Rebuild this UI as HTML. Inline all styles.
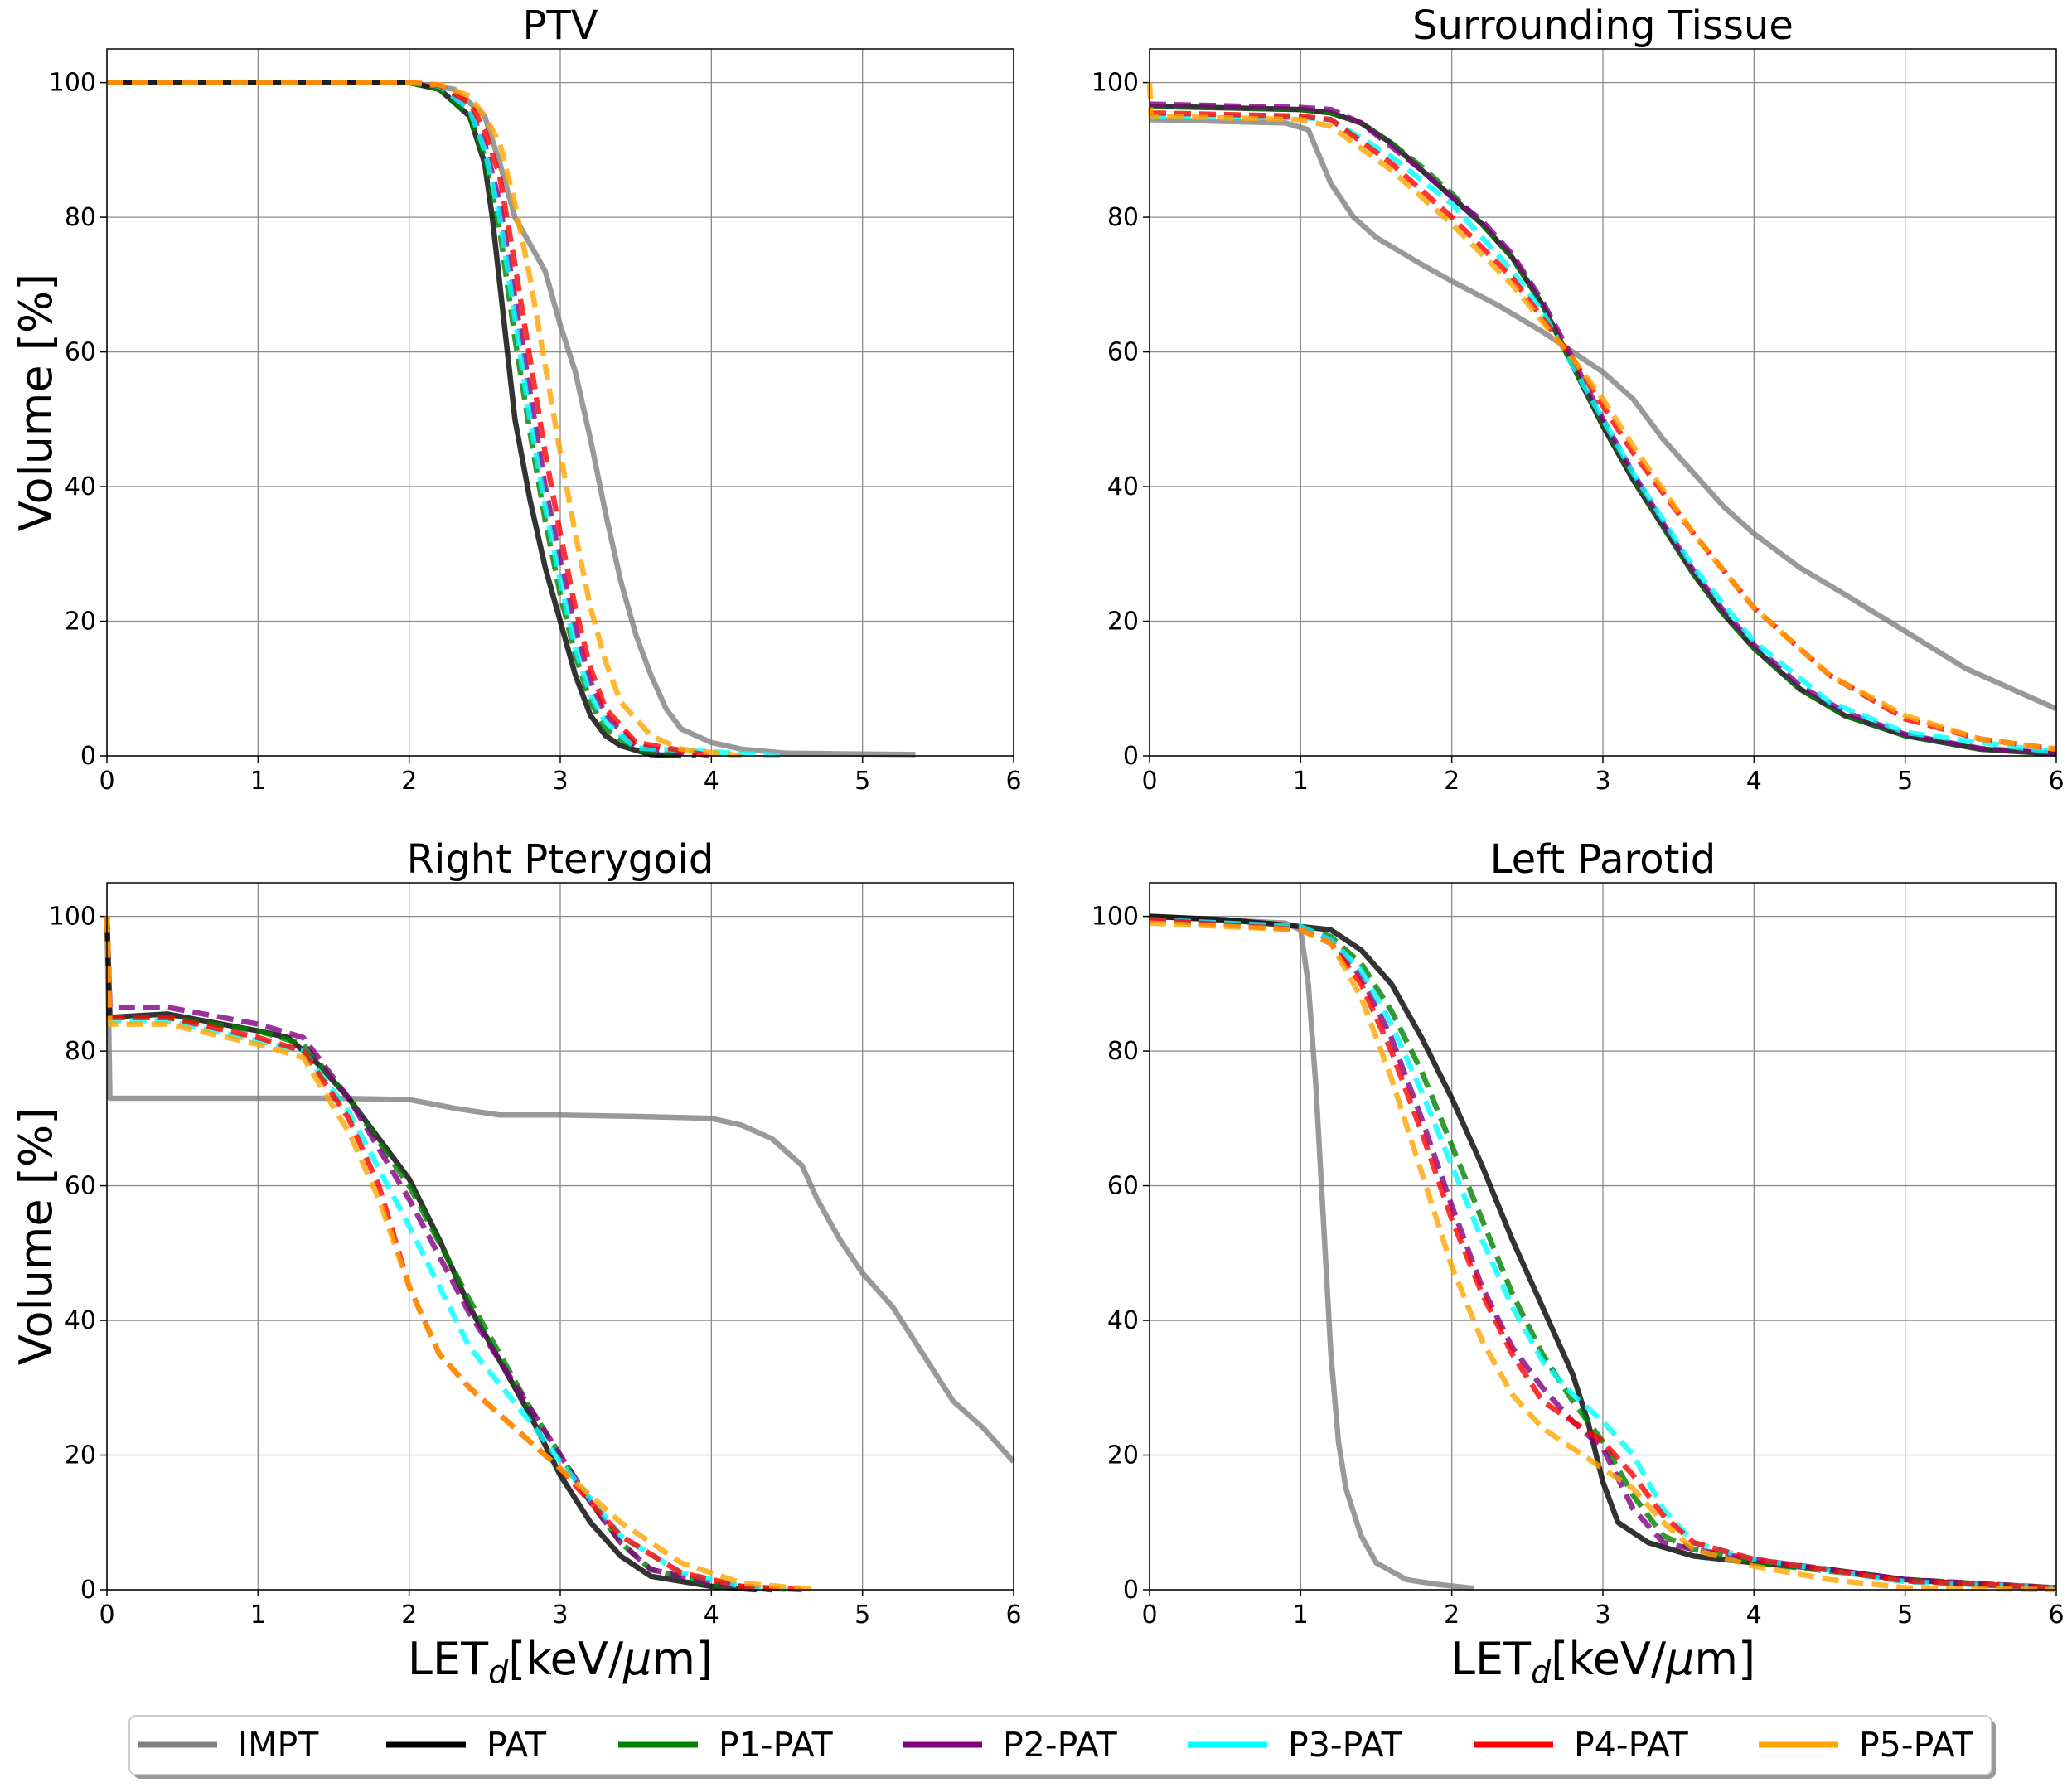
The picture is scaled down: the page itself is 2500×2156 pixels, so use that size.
<!DOCTYPE html>
<html><head><meta charset="utf-8"><style>
html,body{margin:0;padding:0;background:#fff;}
svg{display:block;font-family:"DejaVu Sans","Liberation Sans",sans-serif;}
</style></head><body>
<svg id="fig" width="2500" height="2156" viewBox="0 0 2500 2156" xmlns="http://www.w3.org/2000/svg"></svg>
<script>
const seriesNames = ["IMPT","PAT","P1-PAT","P2-PAT","P3-PAT","P4-PAT","P5-PAT"];
const seriesColors = ["rgba(128,128,128,0.8)","rgba(0,0,0,0.8)","rgba(0,128,0,0.8)","rgba(128,0,128,0.8)","rgba(0,255,255,0.8)","rgba(255,0,0,0.8)","rgba(255,165,0,0.8)"];
const legendColors = ["#808080","#000","#008000","#800080","#00ffff","#ff0000","#ffa500"];
const panelTitles = ["PTV","Surrounding Tissue","Right Pterygoid","Left Parotid"];
const xTicks = [0,1,2,3,4,5,6];
const yTicks = [0,20,40,60,80,100];

const ptvIMPT=[[0,100],[2,100],[2.3,99],[2.5,95],[2.6,88],[2.7,80],[2.9,72],[3.0,64],[3.1,57],[3.2,47],[3.3,36],[3.4,26],[3.5,18],[3.6,12],[3.7,7],[3.8,4],[4.0,2],[4.2,1],[4.5,0.4],[5.35,0.2]];
const ptvPAT=[[0,100],[2,100],[2.2,99],[2.4,95],[2.5,88],[2.55,80],[2.6,70],[2.65,60],[2.7,50],[2.8,38],[2.9,28],[3.0,20],[3.1,12],[3.2,6],[3.3,3],[3.4,1.5],[3.6,0.2],[3.8,0]];
const ptvP1=[[0,100],[2,100],[2.2,99],[2.4,95],[2.5,89],[2.6,78],[2.7,62],[2.8,48],[2.9,35],[3.0,24],[3.1,15],[3.2,8],[3.3,4],[3.5,1],[3.8,0]];
const ptvP2=[[0,100],[2,100],[2.2,99.5],[2.4,96],[2.5,91],[2.6,82],[2.7,68],[2.8,54],[2.9,40],[3.0,29],[3.1,19],[3.2,11],[3.3,6],[3.5,1.5],[3.9,0]];
const ptvP3=[[0,100],[2,100],[2.2,99.5],[2.4,96],[2.5,90],[2.6,80],[2.7,65],[2.8,50],[2.9,37],[3.0,26],[3.1,16],[3.2,9],[3.3,5],[3.5,1.2],[4.5,0]];
const ptvP4=[[0,100],[2,100],[2.2,99.6],[2.4,97],[2.5,93],[2.6,86],[2.7,73],[2.8,59],[2.9,45],[3.0,33],[3.1,22],[3.2,13],[3.3,7],[3.5,2],[4.0,0]];
const ptvP5=[[0,100],[2,100],[2.2,99.7],[2.4,98],[2.5,95],[2.6,91],[2.7,82],[2.8,71],[2.9,58],[3.0,45],[3.1,33],[3.2,22],[3.3,14],[3.4,8],[3.6,3],[3.8,1],[4.2,0]];

const stIMPT=[[0,94.5],[0.9,94],[1.05,93],[1.2,85],[1.35,80],[1.5,77],[1.8,73],[2.0,70.5],[2.3,67],[2.6,63],[2.8,60],[3.0,57],[3.2,53],[3.4,47],[3.6,42],[3.8,37],[4.0,33],[4.3,28],[4.6,24],[5.0,18.5],[5.4,13],[5.7,10],[6,7]];
const stPAT=[[0,96.5],[1,96],[1.2,95.5],[1.4,94],[1.6,91],[1.8,87],[2.0,83],[2.2,79],[2.4,74],[2.6,67],[2.8,58],[3.0,49],[3.2,41],[3.4,34],[3.6,27],[3.8,21],[4.0,16],[4.3,10],[4.6,6],[5,3],[5.5,1],[6,0.3]];
const stP1=[[0,96.5],[1,96],[1.2,95.5],[1.4,94],[1.6,91],[1.8,87.5],[2.0,83.5],[2.2,79],[2.4,74],[2.6,67],[2.8,58],[3.0,49.5],[3.2,41.5],[3.4,34],[3.6,27],[3.8,21],[4.0,16],[4.3,10],[4.6,6],[5,3],[5.5,1],[6,0.3]];
const stP2=[[0,96.8],[1,96.3],[1.2,96],[1.4,94],[1.6,90.5],[1.8,87],[2.0,83],[2.2,79.5],[2.4,74.5],[2.6,67.5],[2.8,59],[3.0,50],[3.2,42],[3.4,34.5],[3.6,27.5],[3.8,21.5],[4.0,16.5],[4.3,10.5],[4.6,6.5],[5,3.2],[5.5,1.1],[6,0.4]];
const stP3=[[0,95],[1,94.8],[1.2,94.5],[1.6,89],[2,82],[2.4,72],[2.6,66],[2.8,58],[3.0,50],[3.2,42],[3.6,28],[4,17],[4.5,8],[5,3.5],[6,0.5]];
const stP4=[[0,95.5],[1,95],[1.2,94.5],[1.6,88],[2,80],[2.4,71],[2.8,59],[3,52],[3.2,45],[3.6,33],[4,22],[4.5,12],[5,5.5],[5.5,2.5],[6,1]];
const stP5=[[0,100],[0.01,95],[1,94.5],[1.2,93.5],[1.6,87],[2,79],[2.4,70],[2.8,59],[3,53],[3.2,46],[3.6,33],[4,22],[4.5,12],[5,6],[5.5,2.5],[6,1]];

const rpIMPT=[[0,100],[0.02,73],[1.5,73],[2,72.8],[2.3,71.5],[2.6,70.5],[3,70.5],[3.5,70.3],[4,70],[4.2,69],[4.4,67],[4.6,63],[4.7,58],[4.85,52],[5,47],[5.2,42],[5.4,35],[5.6,28],[5.8,24],[6,19]];
const rpPAT=[[0,100],[0.02,85],[0.4,85.5],[1,83],[1.2,82],[1.4,78],[1.6,73],[1.8,67],[2,61],[2.2,52],[2.4,42],[2.6,34],[2.8,26],[3,17],[3.2,10],[3.4,5],[3.6,2],[4,0.5],[4.3,0]];
const rpP1=[[0,100],[0.02,85],[0.4,85],[1,83],[1.3,81],[1.6,73],[2,60],[2.4,43],[2.8,27],[3,20],[3.2,13],[3.4,7],[3.6,3],[4,0.8],[4.4,0]];
const rpP2=[[0,100],[0.02,86.5],[0.4,86.5],[1,84],[1.3,82],[1.6,73],[2,58],[2.4,41],[2.8,27],[3,20],[3.2,13],[3.4,7],[3.6,3],[4,1],[4.4,0]];
const rpP3=[[0,100],[0.02,84.5],[0.4,84.5],[1,81.5],[1.3,80],[1.6,71],[2,54],[2.4,36],[2.8,25],[3,19],[3.4,8],[3.8,2.5],[4.2,0.5],[4.5,0]];
const rpP4=[[0,100],[0.02,85],[0.4,85],[1,82],[1.3,80],[1.6,70],[1.8,60],[2,45],[2.2,35],[2.4,30],[2.8,22],[3,18],[3.4,8],[3.8,2.5],[4.2,0.5],[4.6,0]];
const rpP5=[[0,100],[0.02,84],[0.4,84],[1,81],[1.3,79],[1.6,68],[1.8,58],[2,45],[2.2,35],[2.4,30],[2.8,22],[3,18],[3.4,10],[3.8,4],[4.2,1],[4.7,0]];

const lpIMPT=[[0,100],[0.9,99],[1.0,98],[1.05,90],[1.1,75],[1.15,55],[1.2,35],[1.25,22],[1.3,15],[1.4,8],[1.5,4],[1.7,1.5],[1.9,0.8],[2.15,0.2]];
const lpPAT=[[0,100],[0.5,99.5],[1,98.5],[1.2,98],[1.4,95],[1.6,90],[1.8,82],[2.0,73],[2.2,63],[2.4,52],[2.6,42],[2.8,32],[2.9,25],[3.0,16],[3.1,10],[3.3,7],[3.6,5],[4,4],[4.5,3],[5,1.5],[5.5,0.7],[6,0.3]];
const lpP1=[[0,99.5],[1,98.5],[1.2,97],[1.4,93],[1.6,86],[1.8,77],[2,66],[2.2,55],[2.4,44],[2.6,35],[2.8,28],[3,22],[3.2,14],[3.4,8],[3.6,6],[4,4],[5,1.5],[6,0.3]];
const lpP2=[[0,99.5],[1,98.5],[1.2,96.5],[1.4,91],[1.6,82],[1.8,70],[2,57],[2.2,45],[2.4,36],[2.6,30],[2.8,25],[3,21],[3.2,12],[3.4,7],[3.6,6],[4,4.5],[5,1.5],[6,0.3]];
const lpP3=[[0,99.5],[1,98.5],[1.2,96.5],[1.4,92],[1.6,84],[1.8,74],[2,63],[2.2,52],[2.4,42],[2.6,34],[2.8,29],[3,25],[3.2,20],[3.4,12],[3.6,7],[4,4.5],[5,1.2],[6,0.3]];
const lpP4=[[0,99.5],[1,98],[1.2,96],[1.4,90],[1.6,80],[1.8,68],[2,55],[2.2,44],[2.4,35],[2.6,28],[2.8,25],[3,22],[3.2,17],[3.4,11],[3.6,7],[4,4.5],[5,1.3],[6,0.3]];
const lpP5=[[0,99],[1,98],[1.2,96],[1.4,88],[1.6,76],[1.8,62],[2,48],[2.2,37],[2.4,29],[2.6,24],[2.8,21],[3,18],[3.2,15],[3.4,10],[3.6,6],[4,3.5],[4.5,1.5],[5,0.3],[6,0]];

const panelSeries = [
  [ptvIMPT,ptvPAT,ptvP1,ptvP2,ptvP3,ptvP4,ptvP5],
  [stIMPT,stPAT,stP1,stP2,stP3,stP4,stP5],
  [rpIMPT,rpPAT,rpP1,rpP2,rpP3,rpP4,rpP5],
  [lpIMPT,lpPAT,lpP1,lpP2,lpP3,lpP4,lpP5]
];

const NS="http://www.w3.org/2000/svg";
const svg=document.getElementById('fig');
function mk(tag,attrs,parent){const e=document.createElementNS(NS,tag);for(const k in attrs)e.setAttribute(k,attrs[k]);(parent||svg).appendChild(e);return e;}

const boxes=[{l:129,r:1223,t:59,b:912},{l:1387,r:2481,t:59,b:912},{l:129,r:1223,t:1065,b:1918},{l:1387,r:2481,t:1065,b:1918}];

boxes.forEach((bx,pi)=>{
  const g=mk('g',{});
  
  
  const xs=v=>bx.l+(v/6)*(bx.r-bx.l);
  const ys=v=>bx.b-(v/105)*(bx.b-bx.t);
  xTicks.forEach(v=>{
    const gl=mk('line',{x1:xs(v),x2:xs(v),y1:bx.t,y2:bx.b,stroke:'#8a8a8a','stroke-width':1.3},g);
    
    
    mk('line',{x1:xs(v),x2:xs(v),y1:bx.b,y2:bx.b+8,stroke:'#000','stroke-width':1.5},g);
    const t=mk('text',{x:xs(v),y:bx.b+40,'text-anchor':'middle','font-size':30},g);
    t.textContent=v;
    
    
  });
  yTicks.forEach(v=>{
    const gl=mk('line',{x1:bx.l,x2:bx.r,y1:ys(v),y2:ys(v),stroke:'#8a8a8a','stroke-width':1.3},g);
    
    
    mk('line',{x1:bx.l-8,x2:bx.l,y1:ys(v),y2:ys(v),stroke:'#000','stroke-width':1.5},g);
    const t=mk('text',{x:bx.l-13,y:ys(v)+10,'text-anchor':'end','font-size':30},g);
    t.textContent=v;
    
    
  });
  panelSeries[pi].forEach((pts,si)=>{
    const p=mk('polyline',{points:pts.map(d=>xs(d[0]).toFixed(1)+','+ys(d[1]).toFixed(1)).join(' '),fill:'none',stroke:seriesColors[si],'stroke-width':6.5,'stroke-linejoin':'round','stroke-dasharray':si>=2?'20 10':'none'},g);
    
    
  });
  const fr=mk('rect',{x:bx.l,y:bx.t,width:bx.r-bx.l,height:bx.b-bx.t,fill:'none',stroke:'#000','stroke-width':1.5},g);
  
  
  const tt=mk('text',{x:(bx.l+bx.r)/2,y:bx.t-12,'text-anchor':'middle','font-size':48},g);
  tt.textContent=panelTitles[pi];
  
  
  if(pi%2===0){
    const cy=(bx.t+bx.b)/2;
    const yl=mk('text',{x:62,y:cy,'text-anchor':'middle','font-size':54,transform:'rotate(-90 62 '+cy+')'},g);
    yl.textContent='Volume [%]';
    
    
  }
  if(pi>=2){
    const xl=mk('text',{x:(bx.l+bx.r)/2,y:2020,'text-anchor':'middle','font-size':54},g);
    xl.innerHTML='LET<tspan font-size="38" dy="10" font-style="italic">d</tspan><tspan dy="-10">[keV/</tspan><tspan font-style="italic">μ</tspan>m]';
    
    
  }
});

// legend
const lg=mk('g',{});


mk('rect',{x:161,y:2075,width:2247,height:71,rx:8,fill:'#999'},lg);
const lbox=mk('rect',{x:156,y:2070,width:2247,height:71,rx:8,fill:'#fff',stroke:'#ccc','stroke-width':2},lg);


const legLineX=[166,466,746,1089,1433,1778,2122];
seriesNames.forEach((n,i)=>{
  const e=mk('g',{},lg);
  
  
  mk('line',{x1:legLineX[i],x2:legLineX[i]+96,y1:2105,y2:2105,stroke:legendColors[i],'stroke-width':7},e);
  const t=mk('text',{x:legLineX[i]+121,y:2119,'font-size':41},e);
  t.textContent=n;
});
</script>
</body></html>
